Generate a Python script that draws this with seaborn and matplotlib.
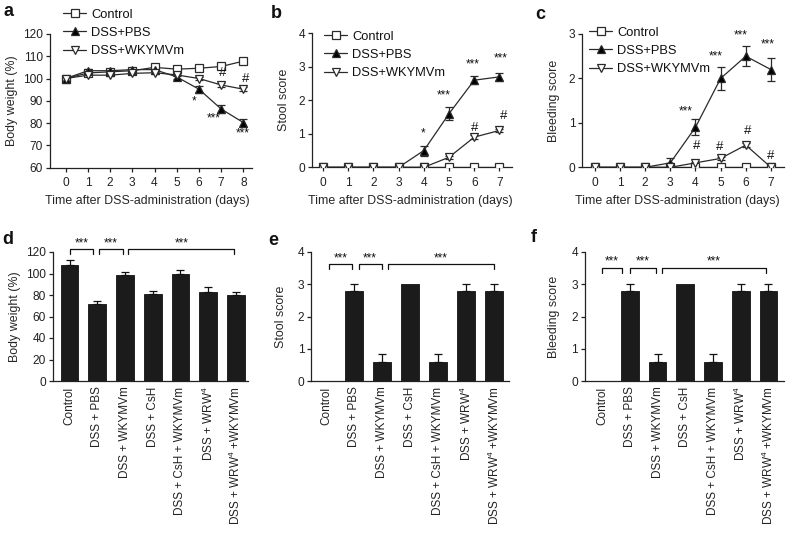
import numpy as np
import pandas as pd
import matplotlib
matplotlib.use("Agg")
import matplotlib.pyplot as plt
import seaborn as sns

# ---------------- data ----------------
days_a = [0, 1, 2, 3, 4, 5, 6, 7, 8]
bw_control = [100, 102.5, 103, 103.5, 105, 104.2, 104.6, 105.4, 107.8]
bw_pbs = [100, 103.5, 103.5, 104, 104, 100.7, 95.2, 86.3, 80.2]
bw_pbs_err = [0.5, 0.8, 0.8, 0.8, 0.8, 1.0, 1.5, 1.8, 1.8]
bw_wky = [100, 101.5, 101.5, 102.3, 102.6, 101.6, 100.0, 97.1, 95.2]
bw_wky_err = [0.3, 0.5, 0.5, 0.5, 0.5, 0.6, 0.6, 0.8, 0.8]

days_b = [0, 1, 2, 3, 4, 5, 6, 7]
st_control = [0, 0, 0, 0, 0, 0, 0, 0]
st_pbs = [0, 0, 0, 0, 0.5, 1.6, 2.6, 2.7]
st_pbs_err = [0, 0, 0, 0, 0.15, 0.2, 0.12, 0.12]
st_wky = [0, 0, 0, 0, 0, 0.3, 0.9, 1.1]
st_wky_err = [0, 0, 0, 0, 0, 0.04, 0.05, 0.05]

bl_control = [0, 0, 0, 0, 0, 0, 0, 0]
bl_pbs = [0, 0, 0, 0.1, 0.9, 2.0, 2.5, 2.2]
bl_pbs_err = [0, 0, 0, 0.1, 0.18, 0.25, 0.23, 0.25]
bl_wky = [0, 0, 0, 0, 0.1, 0.2, 0.5, 0]
bl_wky_err = [0, 0, 0, 0, 0.03, 0.03, 0.04, 0]

series_names = ["Control", "DSS+PBS", "DSS+WKYMVm"]

groups = ["Control", "DSS + PBS", "DSS + WKYMVm", "DSS + CsH",
          "DSS + CsH + WKYMVm", "DSS + WRW4", "DSS + WRW4 +WKYMVm"]
group_ticklabels = ["Control", "DSS + PBS", "DSS + WKYMVm", "DSS + CsH",
                    "DSS + CsH + WKYMVm", r"DSS + WRW$\mathregular{^4}$",
                    r"DSS + WRW$\mathregular{^4}$ +WKYMVm"]
d_vals = [108.2, 71.6, 98.5, 80.6, 99.8, 83.0, 79.7]
d_err = [4.0, 2.4, 3.0, 3.0, 3.0, 4.7, 2.8]
e_vals = [0, 2.8, 0.6, 3.0, 0.6, 2.8, 2.8]
e_err = [0, 0.2, 0.25, 0, 0.25, 0.2, 0.2]
f_vals = [0, 2.8, 0.6, 3.0, 0.6, 2.8, 2.8]
f_err = [0, 0.2, 0.25, 0, 0.25, 0.2, 0.2]

# ---------------- style ----------------
sns.set_style("ticks")
plt.rcParams["font.family"] = ["Liberation Sans", "DejaVu Sans"]
plt.rcParams["mathtext.fontset"] = "custom"
plt.rcParams["mathtext.rm"] = "Liberation Sans"
plt.rcParams["axes.edgecolor"] = "#222222"
plt.rcParams["axes.linewidth"] = 0.9
plt.rcParams["xtick.color"] = "#222222"
plt.rcParams["ytick.color"] = "#222222"
plt.rcParams["text.color"] = "#111111"

W, H = 786, 533
fig = plt.figure(figsize=(W / 100, H / 100), dpi=100)


def px_axes(x0, y0, x1, y1):
    return fig.add_axes([x0 / W, 1 - y1 / H, (x1 - x0) / W, (y1 - y0) / H])


FS_TICK = 8.6
FS_LAB = 8.9
LW = 0.9
LINEC = "#2a2a2a"

styles = {
    "Control": dict(marker="s", markersize=5.4, markerfacecolor="white"),
    "DSS+PBS": dict(marker="^", markersize=5.8, markerfacecolor="black"),
    "DSS+WKYMVm": dict(marker="v", markersize=6.0, markerfacecolor="white"),
}


def line_panel(ax, x, ctrl, pbs, pbs_err, wky, wky_err, label_x=0.5):
    data = {"Control": (ctrl, None), "DSS+PBS": (pbs, pbs_err),
            "DSS+WKYMVm": (wky, wky_err)}
    for name in series_names:
        y, err = data[name]
        df = pd.DataFrame({"x": x, "y": y})
        if err is not None:
            ax.errorbar(x, y, yerr=err, fmt="none", ecolor=LINEC,
                        elinewidth=0.9, capsize=2.8, capthick=0.9, zorder=2)
        sns.lineplot(data=df, x="x", y="y", ax=ax, color=LINEC, lw=LW,
                     markeredgecolor=LINEC, markeredgewidth=0.9,
                     label=name, zorder=3, **styles[name])
    ax.set_xlabel("Time after DSS-administration (days)", fontsize=FS_LAB,
                  labelpad=4)
    ax.xaxis.set_label_coords(label_x, -0.205)
    ax.tick_params(labelsize=FS_TICK, length=3, width=0.9, pad=2)
    ax.tick_params(axis="x", pad=4)
    sns.despine(ax=ax)


def legend(ax, x, y):
    ax.legend(loc="upper left", bbox_to_anchor=(x / W, 1 - y / H),
              bbox_transform=fig.transFigure, frameon=False, fontsize=9.3,
              handlelength=1.8, handletextpad=0.4, labelspacing=0.48,
              borderpad=0, borderaxespad=0)


def ann(ax, x, y, s, fs=8.5):
    ax.text(x, y, s, ha="center", va="center", fontsize=fs, color="#111111",
            clip_on=False)


# ---- panel a ----
axa = px_axes(50, 34, 252, 167.5)
line_panel(axa, days_a, bw_control, bw_pbs, bw_pbs_err, bw_wky, bw_wky_err,
           label_x=0.48)
axa.set_xlim(-0.71, 8.39)
axa.set_ylim(60, 120)
axa.set_xticks(days_a)
axa.set_yticks(np.arange(60, 121, 10))
axa.set_ylabel("Body weight (%)", fontsize=FS_LAB, labelpad=4)
legend(axa, 63, 8.5)
ann(axa, 5.76, 89.5, "*")
ann(axa, 6.66, 82.0, "***")
ann(axa, 7.98, 75.3, "***")
ann(axa, 7.08, 102.3, "#", 9.5)
ann(axa, 8.12, 99.8, "#", 9.5)

# ---- panel b ----
axb = px_axes(312, 33.3, 512, 167.3)
line_panel(axb, days_b, st_control, st_pbs, st_pbs_err, st_wky, st_wky_err,
           label_x=0.49)
axb.set_xlim(-0.44, 7.5)
axb.set_ylim(0, 4)
axb.set_xticks(days_b)
axb.set_yticks(range(0, 5))
axb.set_ylabel("Stool score", fontsize=FS_LAB, labelpad=6)
legend(axb, 324, 30.5)
ann(axb, 3.97, 1.02, "*")
ann(axb, 4.8, 2.14, "***")
ann(axb, 5.95, 3.08, "***")
ann(axb, 7.07, 3.26, "***")
ann(axb, 6.0, 1.18, "#", 9.5)
ann(axb, 7.18, 1.53, "#", 9.5)

# ---- panel c ----
axc = px_axes(582.3, 34, 784, 167.3)
line_panel(axc, days_b, bl_control, bl_pbs, bl_pbs_err, bl_wky, bl_wky_err,
           label_x=0.47)
axc.set_xlim(-0.5, 7.52)
axc.set_ylim(0, 3)
axc.set_xticks(days_b)
axc.set_yticks(range(0, 4))
axc.set_ylabel("Bleeding score", fontsize=FS_LAB, labelpad=6)
legend(axc, 589, 26.5)
ann(axc, 3.6, 1.25, "***")
ann(axc, 4.8, 2.5, "***")
ann(axc, 5.78, 2.97, "***")
ann(axc, 6.88, 2.76, "***")
ann(axc, 4.03, 0.49, "#", 9.5)
ann(axc, 4.95, 0.46, "#", 9.5)
ann(axc, 6.08, 0.82, "#", 9.5)
ann(axc, 6.97, 0.25, "#", 9.5)


# ---------------- bar panels ----------------
def bar_panel(ax, vals, errs, ylabel, ylim, yticks, xlim, lpad):
    df = pd.DataFrame({"group": groups, "value": vals})
    sns.barplot(data=df, x="group", y="value", order=groups, color="#1b1b1b",
                edgecolor="#111111", linewidth=0.6, width=0.64, saturation=1,
                errorbar=None, ax=ax, zorder=2)
    xs = np.arange(len(groups))
    errs = np.asarray(errs, dtype=float)
    m = errs > 0
    ax.errorbar(xs[m], np.asarray(vals)[m],
                yerr=[np.zeros(m.sum()), errs[m]], fmt="none",
                ecolor="#111111", elinewidth=0.9, capsize=3.2, capthick=0.9,
                zorder=1)
    ax.set_xlim(*xlim)
    ax.set_ylim(*ylim)
    ax.set_yticks(yticks)
    ax.set_xticks(xs)
    ax.set_xticklabels(group_ticklabels, rotation=90, fontsize=8.5)
    ax.set_xlabel("")
    ax.set_ylabel(ylabel, fontsize=FS_LAB, labelpad=lpad)
    ax.tick_params(axis="y", labelsize=FS_TICK, length=3, width=0.9, pad=2)
    ax.tick_params(axis="x", length=0, pad=4)
    sns.despine(ax=ax)


def bracket(ax, x1, x2, ylow, yhigh, ystar):
    ax.plot([x1, x1, x2, x2], [ylow, yhigh, yhigh, ylow], color="#111111",
            lw=0.9, clip_on=False)
    ann(ax, (x1 + x2) / 2, ystar, "***")


axd = px_axes(53, 252, 248, 381)
bar_panel(axd, d_vals, d_err, "Body weight (%)", (0, 120), range(0, 121, 20),
          (-0.6, 6.44), 4)
bracket(axd, 0.02, 0.85, 118, 123, 127.5)
bracket(axd, 1.07, 1.93, 118, 123, 127.5)
bracket(axd, 2.12, 5.95, 118, 123, 127.5)

axe = px_axes(311.3, 252, 508.7, 381)
bar_panel(axe, e_vals, e_err, "Stool score", (0, 4), range(0, 5),
          (-0.54, 6.52), 8)
bracket(axe, 0.1, 0.93, 3.48, 3.62, 3.8)
bracket(axe, 1.15, 1.98, 3.48, 3.62, 3.8)
bracket(axe, 2.2, 6.0, 3.48, 3.62, 3.8)

axf = px_axes(585, 252, 784, 381)
bar_panel(axf, f_vals, f_err, "Bleeding score", (0, 4), range(0, 5),
          (-0.62, 6.56), 8)
bracket(axf, 0.0, 0.7, 3.35, 3.51, 3.7)
bracket(axf, 1.0, 1.95, 3.35, 3.51, 3.7)
bracket(axf, 2.15, 5.9, 3.35, 3.51, 3.7)

# panel letters
for lx, ly, s in [(3, 3, "a"), (271, 5, "b"), (535, 6, "c"),
                  (2, 231, "d"), (268, 232, "e"), (531, 229, "f")]:
    fig.text(lx / W, 1 - ly / H, s, fontsize=13, fontweight="bold",
             ha="left", va="top")

fig.savefig("out.png", dpi=100)
